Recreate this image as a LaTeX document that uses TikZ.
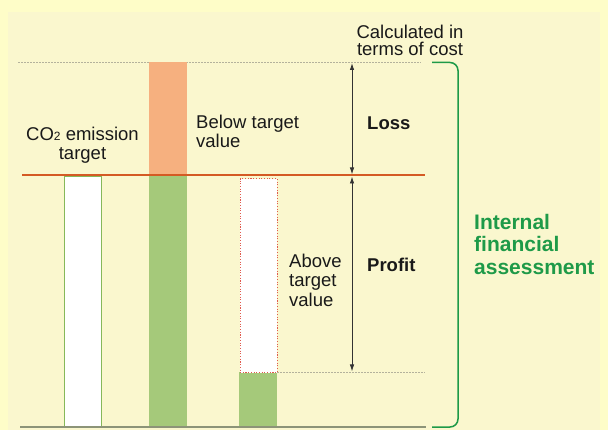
\documentclass[tikz,border=0pt]{standalone}
\usepackage{fontspec}
\setmainfont{Liberation Sans}
\usetikzlibrary{arrows.meta}
\definecolor{bgout}{HTML}{FEFDC8}
\definecolor{bgin}{HTML}{FAF7CE}
\definecolor{barorange}{HTML}{F6B07F}
\definecolor{bargreen}{HTML}{A5C97A}
\definecolor{lineorange}{HTML}{D45A24}
\definecolor{brgreen}{HTML}{1E9A48}
\definecolor{edgegreen}{HTML}{86B85A}
\definecolor{dotred}{HTML}{E05A4E}
\definecolor{dotgray}{HTML}{B4B29C}
\definecolor{basegray}{HTML}{8C9478}
\tikzset{
  txt/.style={inner sep=0pt, align=left, font=\fontsize{18.5}{19.5}\selectfont, text=black!90},
  bold/.style={inner sep=0pt, font=\fontsize{18.5}{19.5}\selectfont\bfseries, text=black!90},
  greentxt/.style={inner sep=0pt, align=left, font=\fontsize{21}{22.5}\selectfont\bfseries, text=brgreen},
  guide/.style={draw=dotgray, line width=0.8pt, dash pattern=on 1.5pt off 1.5pt},
  dimarrow/.style={draw=black!80, line width=0.9pt, {Latex[length=7pt,width=4.5pt]}-{Latex[length=7pt,width=4.5pt]}},
}
\begin{document}
\begin{tikzpicture}[x=1pt, y=-1pt]
\useasboundingbox (0,0) rectangle (608,430);
\fill[bgout] (0,0) rectangle (608,430);
\fill[bgin] (8,12) rectangle (600,430);

% guide lines
\draw[guide] (18,62.5) -- (421,62.5);
\draw[guide] (277,372) -- (425,372);

% bars
\node[draw=edgegreen, line width=0.9pt, fill=white, minimum width=37pt, minimum height=251pt, inner sep=0pt, anchor=north west] (target) at (64,176) {};
\node[fill=barorange, minimum width=38pt, minimum height=114pt, inner sep=0pt, anchor=north west] (below) at (149,62) {};
\node[fill=bargreen, minimum width=38pt, minimum height=251pt, inner sep=0pt, anchor=north west] (belowg) at (149,176) {};
\node[fill=bargreen, minimum width=38pt, minimum height=55pt, inner sep=0pt, anchor=north west] (aboveg) at (239,372) {};
\node[draw=dotred, line width=1.1pt, dash pattern=on 1.1pt off 1.6pt, fill=white, minimum width=37pt, minimum height=194pt, inner sep=0pt, anchor=north west] (above) at (239.5,178) {};

% target line and base line
\coordinate (tl) at (22,175.5);
\coordinate (tr) at (425,175.5);
\draw[lineorange, line width=2pt] (tl) -- (tr);
\coordinate (bl) at (20,427);
\coordinate (br) at (426,427);
\draw[basegray, line width=1.4pt] (bl) -- (br);

% dimension arrows
\coordinate (a1) at (352,63);
\coordinate (a2) at (352,174.5);
\coordinate (a3) at (352,176.5);
\coordinate (a4) at (352,371.5);
\draw[dimarrow] (a1) -- (a2);
\draw[dimarrow] (a3) -- (a4);

% bracket
\coordinate (b1) at (432,62.5);
\coordinate (b2) at (458,62.5);
\coordinate (b3) at (458,427);
\coordinate (b4) at (432,427);
\draw[brgreen, line width=1.5pt, rounded corners=8pt] (b1) -- (b2) -- (b3) -- (b4);

% texts
\node[txt, align=center, anchor=north, font=\fontsize{18.5}{17}\selectfont] (calc) at (410,24.5) {Calculated in\\terms of cost};
\node[txt, align=center, anchor=north] (co2) at (82.5,126.5) {CO{\fontsize{12}{12}\selectfont 2} emission\\target};
\node[txt, anchor=north west] (belowtxt) at (196,114.5) {Below target\\value};
\node[bold, anchor=base west] (loss) at (367,130) {Loss};
\node[txt, anchor=north west] (abovetxt) at (289,253.5) {Above\\target\\value};
\node[bold, anchor=base west] (profit) at (367,272) {Profit};
\node[greentxt, anchor=north west] (ifa) at (474,213.7) {Internal\\financial\\assessment};
\end{tikzpicture}
\end{document}
